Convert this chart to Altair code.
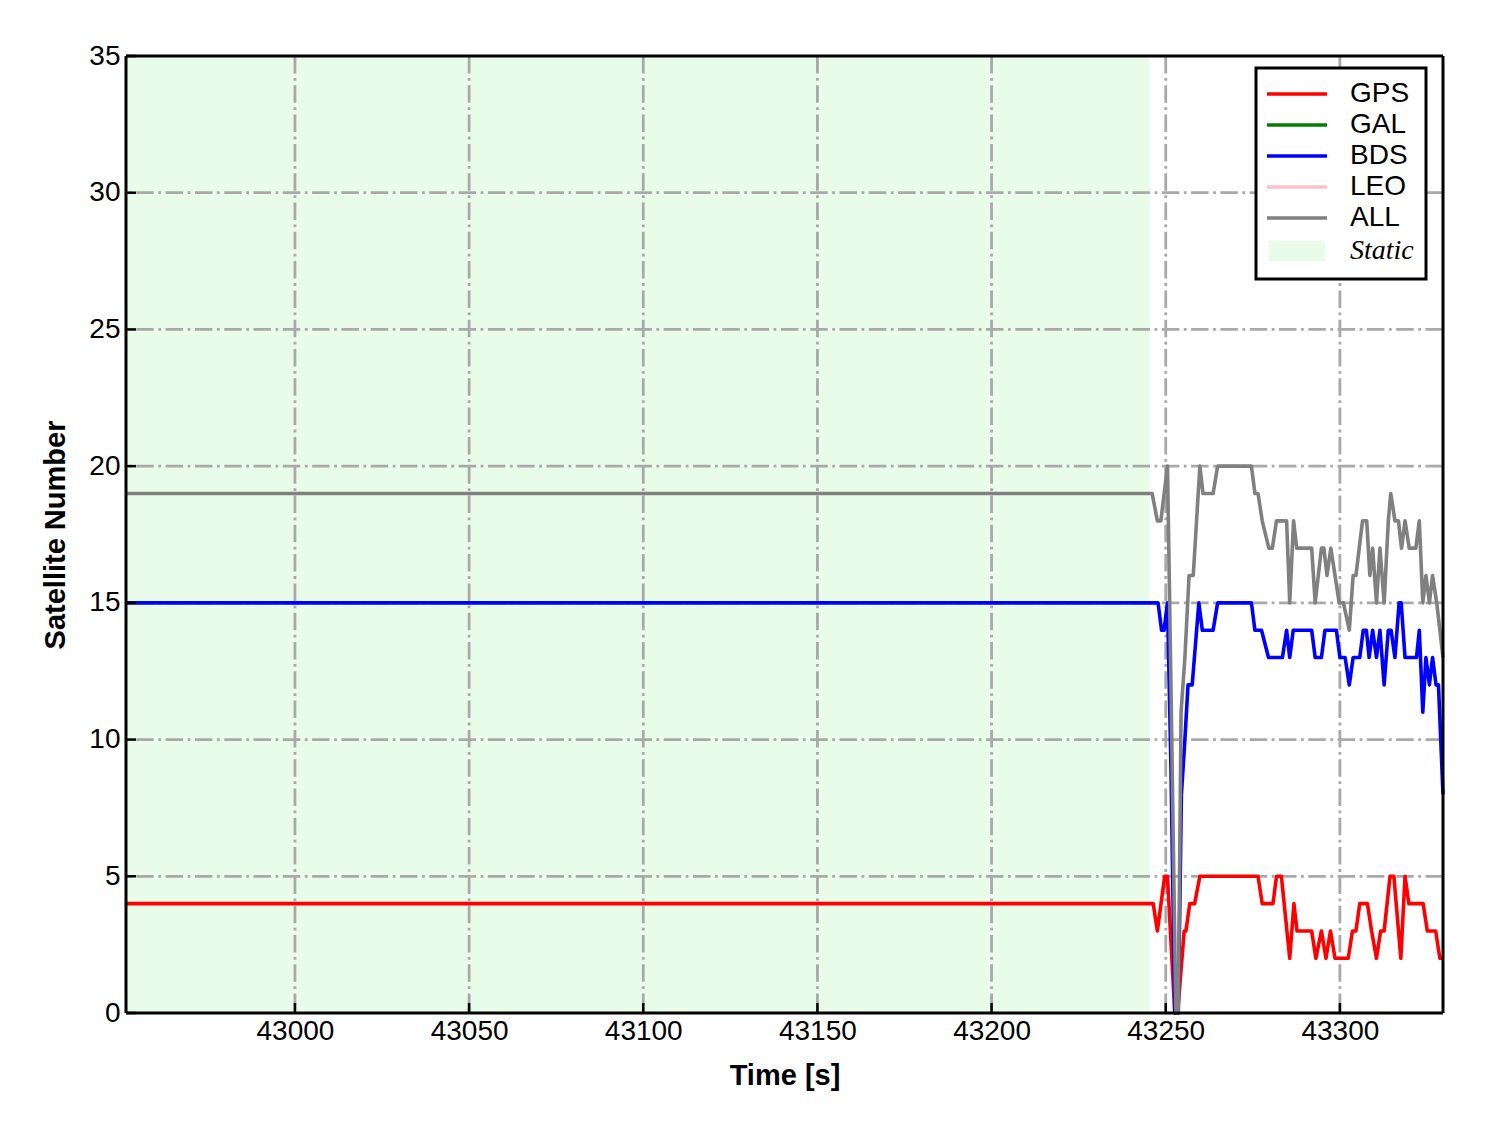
import altair as alt
import pandas as pd

# ---------------- data ----------------
systems = ["GPS", "GAL", "BDS", "LEO", "ALL", "Static"]
sys_colors = ["#ff0000", "#008000", "#0000ff", "#ffc0cb", "#808080", "#e9fce9"]

gps_t = [42951.5, 43246.4, 43247.6, 43249.7, 43250.5, 43252.6, 43253.4, 43255.3, 43255.8,
         43256.9, 43258.3, 43259.8, 43276.5, 43277.7, 43280.8, 43281.8, 43283.2, 43285.6,
         43286.8, 43287.7, 43291.9, 43293.1, 43294.7, 43296.0, 43297.3, 43298.6, 43302.4,
         43303.6, 43304.6, 43305.7, 43307.9, 43309.1, 43310.5, 43311.7, 43312.7, 43314.4,
         43315.5, 43317.5, 43318.7, 43319.8, 43323.9, 43325.1, 43327.5, 43328.7, 43329.6]
gps_v = [4, 4, 3, 5, 5, 0, 0, 3, 3,
         4, 4, 5, 5, 4, 4, 5, 5, 2,
         4, 3, 3, 2, 3, 2, 3, 2, 2,
         3, 3, 4, 4, 3, 2, 3, 3, 5,
         5, 2, 5, 4, 4, 3, 3, 2, 2]

bds_t = [42951.5, 43247.8, 43248.8, 43249.5, 43250.5, 43251.5, 43252.6, 43253.6, 43254.5,
         43255.5, 43256.4, 43257.6, 43259.5, 43260.5, 43263.6, 43264.9, 43274.6, 43275.6,
         43277.5, 43279.5, 43283.5, 43284.7, 43285.6, 43286.6, 43291.9, 43292.9, 43294.7,
         43295.7, 43299.0, 43300.0, 43301.5, 43302.7, 43303.8, 43305.7, 43306.7, 43307.6,
         43308.4, 43309.4, 43310.5, 43311.5, 43312.7, 43313.9, 43314.7, 43315.8, 43317.0,
         43317.6, 43318.7, 43322.0, 43322.8, 43323.8, 43324.7, 43325.7, 43326.6, 43327.6,
         43328.3, 43329.6]
bds_v = [15, 15, 14, 14, 15, 9, 0, 0, 8,
         10, 12, 12, 15, 14, 14, 15, 15, 14,
         14, 13, 13, 14, 13, 14, 14, 13, 13,
         14, 14, 13, 13, 12, 13, 13, 14, 14,
         13, 14, 13, 14, 12, 14, 14, 13, 15,
         15, 13, 13, 14, 11, 13, 12, 13, 12,
         12, 8]

all_t = [42951.5, 43246.1, 43247.6, 43248.6, 43250.5, 43251.5, 43252.9, 43253.6, 43254.4,
         43255.5, 43256.7, 43257.9, 43259.8, 43260.7, 43263.6, 43264.9, 43274.6, 43275.6,
         43276.5, 43277.7, 43279.6, 43280.6, 43281.8, 43284.7, 43285.6, 43286.7, 43287.6,
         43291.9, 43292.9, 43294.7, 43295.4, 43296.3, 43297.4, 43299.8, 43301.0, 43302.7,
         43303.8, 43304.6, 43306.5, 43307.7, 43308.6, 43309.4, 43310.5, 43311.5, 43312.7,
         43313.9, 43314.6, 43315.8, 43316.8, 43317.7, 43318.7, 43319.9, 43321.8, 43322.8,
         43323.8, 43324.7, 43325.7, 43326.6, 43327.8, 43329.6]
all_v = [19, 19, 18, 18, 20, 12, 0, 0, 11,
         13, 16, 16, 20, 19, 19, 20, 20, 19,
         19, 18, 17, 17, 18, 18, 15, 18, 17,
         17, 15, 17, 17, 16, 17, 15, 15, 14,
         16, 16, 18, 18, 16, 17, 15, 17, 15,
         18, 19, 18, 18, 17, 18, 17, 17, 18,
         15, 16, 15, 16, 15, 13]

static_start = [42951.5]
static_end = [43245.4]

x_domain = [42951.5, 43329.6]
y_domain = [0, 35]
x_ticks = [43000, 43050, 43100, 43150, 43200, 43250, 43300]
y_ticks = [0, 5, 10, 15, 20, 25, 30, 35]
y_grid = [5, 10, 15, 20, 25, 30]

# ---------------- tables ----------------
rows = []
for name, ts, vs in [("GPS", gps_t, gps_v), ("BDS", bds_t, bds_v), ("ALL", all_t, all_v)]:
    for i, (t, v) in enumerate(zip(ts, vs)):
        rows.append({"t": t, "v": v, "sys": name, "i": i})
lines_df = pd.DataFrame(rows)
static_df = pd.DataFrame({"start": static_start, "end": static_end})
xgrid_df = pd.DataFrame({"x": x_ticks})
ygrid_df = pd.DataFrame({"y": y_grid})
yt_df = pd.DataFrame({"y": y_ticks})
xframe_df = pd.DataFrame({"x": x_domain})
yframe_df = pd.DataFrame({"y": y_domain})

W, H = 1317, 957
FONT = "Liberation Sans"
GRID = "#a9a9a9"
DASH = [17.5, 4.5, 2.8, 4.5]

xscale = alt.Scale(domain=x_domain, nice=False, zero=False)
yscale = alt.Scale(domain=y_domain, nice=False, zero=False)

xaxis = alt.Axis(values=x_ticks, format="d", title="Time [s]", titleFont=FONT, titleFontSize=29,
                 titleFontWeight="bold", titleColor="black", titlePadding=16,
                 labelFont=FONT, labelFontSize=28, labelColor="black", labelPadding=4,
                 ticks=False, domain=False, grid=False, labelFlush=False)
yaxis = alt.Axis(values=y_ticks, format="d", title="Satellite Number", titleFont=FONT, titleFontSize=29,
                 titleFontWeight="bold", titleColor="black", titlePadding=18,
                 labelFont=FONT, labelFontSize=28, labelColor="black", labelPadding=6,
                 ticks=False, domain=False, grid=False, labelFlush=False)

static = alt.Chart(static_df).mark_rect(color="#e9fce9").encode(
    x=alt.X("start:Q", scale=xscale, axis=xaxis),
    x2="end:Q",
)

xgrid = alt.Chart(xgrid_df).mark_rule(color=GRID, strokeWidth=2.8, strokeDash=DASH).encode(
    x=alt.X("x:Q", scale=xscale, axis=xaxis)
)
ygrid = alt.Chart(ygrid_df).mark_rule(color=GRID, strokeWidth=2.8, strokeDash=DASH).encode(
    y=alt.Y("y:Q", scale=yscale, axis=yaxis)
)

legend = alt.Legend(
    title=None, orient="none", legendX=1130, legendY=12,
    symbolType=alt.ExprRef(expr="datum.value === 'Static' ? 'M-2.65,-0.85L2.65,-0.85L2.65,0.85L-2.65,0.85Z' : 'M-3,0L3,0'"),
    symbolSize=400, symbolStrokeWidth=3.5,
    symbolFillColor=alt.ExprRef(expr="datum.value === 'Static' ? '#e9fce9' : 'transparent'"),
    labelFont=alt.ExprRef(expr="datum.value === 'Static' ? 'Liberation Serif' : 'Liberation Sans'"),
    labelFontStyle=alt.ExprRef(expr="datum.value === 'Static' ? 'italic' : 'normal'"),
    labelFontSize=28, labelColor="black", labelOffset=39, symbolOffset=15,
    padding=12, rowPadding=3, strokeColor="black", fillColor="white", labelLimit=300,
)

lines = alt.Chart(lines_df).mark_line(strokeJoin="round").encode(
    x=alt.X("t:Q", scale=xscale, axis=xaxis),
    y=alt.Y("v:Q", scale=yscale, axis=yaxis),
    color=alt.Color("sys:N", scale=alt.Scale(domain=systems, range=sys_colors), legend=legend),
    order=alt.Order("i:Q"),
    strokeWidth=alt.value(3.6),
)

xticks = alt.Chart(xgrid_df).mark_rule(color="black", strokeWidth=2.5).encode(
    x=alt.X("x:Q", scale=xscale, axis=xaxis),
    y=alt.value(H - 10), y2=alt.value(H),
)
yticks = alt.Chart(yt_df).mark_rule(color="black", strokeWidth=2.5).encode(
    y=alt.Y("y:Q", scale=yscale, axis=yaxis),
    x=alt.value(0), x2=alt.value(10),
)
xframe = alt.Chart(xframe_df).mark_rule(color="black", strokeWidth=3).encode(
    x=alt.X("x:Q", scale=xscale, axis=xaxis)
)
yframe = alt.Chart(yframe_df).mark_rule(color="black", strokeWidth=3).encode(
    y=alt.Y("y:Q", scale=yscale, axis=yaxis)
)

chart = alt.layer(static, xgrid, ygrid, lines, xticks, yticks, xframe, yframe).properties(
    width=W, height=H,
    autosize=alt.AutoSizeParams(type="none"),
    padding={"left": 118, "top": 48, "right": 37, "bottom": 80},
).configure_view(strokeWidth=0).configure_legend(strokeWidth=3)

chart.save("out.html", embed_options={"renderer": "svg", "actions": False})
